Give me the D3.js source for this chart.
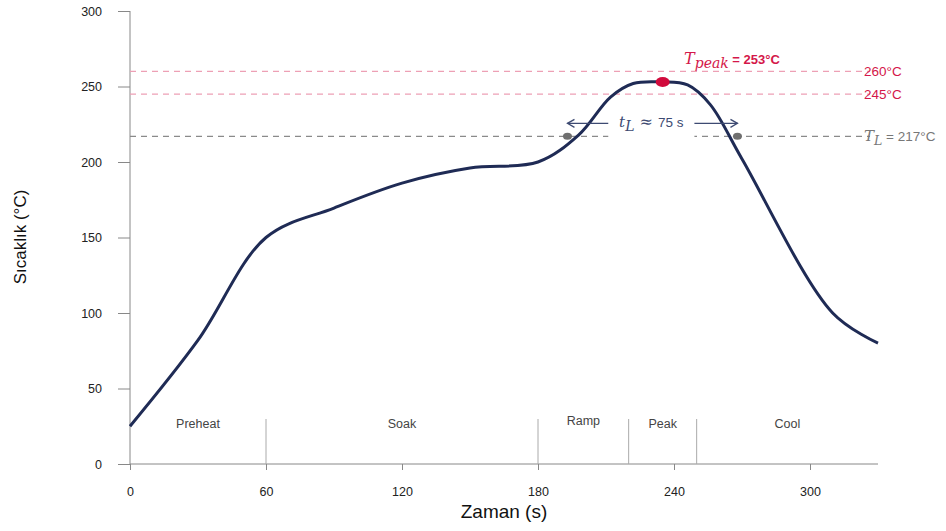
<!DOCTYPE html>
<html><head><meta charset="utf-8">
<script src="https://cdn.jsdelivr.net/npm/d3@7/dist/d3.min.js"></script>
<style>body{margin:0;background:#fff}svg{display:block}text{font-family:"Liberation Sans",Arial,sans-serif}</style>
</head><body><svg id="c" width="946" height="531"></svg>
<script>
const times = [0,30,60,90,120,150,180,198,212,222,235,246,256,270,310,330];
const temps = [25,82,150,169.5,186,196,200,218,243,252,253,251,238,202,100,80];
const xTicks = [0,60,120,180,240,300];
const yTicks = [0,50,100,150,200,250,300];
const phaseNames = ["Preheat","Soak","Ramp","Peak","Cool"];
const phaseBounds = [0,60,180,220,250,330];
const refTemps = [260,245];
const liquidus = 217;
const tLcross = [193,268];
const peakPoint = [235,253];

const svg = d3.select("#c");
const x = d3.scaleLinear().domain([0,330]).range([130,878]);
const y = d3.scaleLinear().domain([0,300]).range([464,11]);
const axisCol = "#888";

// y axis
const ya = svg.append("g").attr("transform","translate(130,0)")
  .call(d3.axisLeft(y).tickValues(yTicks).tickSize(12).tickPadding(16));
ya.select(".domain").attr("stroke",axisCol).attr("d","M0,11V464");
ya.selectAll(".tick line").attr("stroke",axisCol);
ya.selectAll(".tick text").attr("font-size",12.5).attr("fill","#222").attr("font-family","Liberation Sans, Arial");

// x axis
const xa = svg.append("g").attr("transform","translate(0,464)")
  .call(d3.axisBottom(x).tickValues(xTicks).tickSize(6).tickPadding(17));
xa.select(".domain").attr("stroke",axisCol).attr("d","M130,0H878");
xa.selectAll(".tick line").attr("stroke",axisCol);
xa.selectAll(".tick text").attr("font-size",12.5).attr("fill","#222").attr("font-family","Liberation Sans, Arial");

svg.append("text").attr("x",504).attr("y",518).attr("text-anchor","middle")
  .attr("font-size",19).attr("fill","#111").text("Zaman (s)");
svg.append("text").attr("transform","translate(26,237) rotate(-90)").attr("text-anchor","middle")
  .attr("font-size",17).attr("fill","#111").text("Sıcaklık (°C)");

// phase dividers
phaseBounds.slice(1,-1).forEach(b=>{
  svg.append("line").attr("x1",x(b)).attr("x2",x(b)).attr("y1",419).attr("y2",464)
    .attr("stroke","#aaa").attr("stroke-width",1);
});
phaseNames.forEach((n,i)=>{
  const mid = (phaseBounds[i]+phaseBounds[i+1])/2;
  svg.append("text").attr("x",x(mid)).attr("y", n==="Ramp"?425:428).attr("text-anchor","middle")
    .attr("font-size",12.5).attr("fill","#444").text(n);
});

// reference lines
refTemps.forEach(t=>{
  svg.append("line").attr("x1",130).attr("x2",870).attr("y1",y(t)).attr("y2",y(t))
    .attr("stroke","#eda0b5").attr("stroke-width",1.2).attr("stroke-dasharray","6,5");
  svg.append("text").attr("x",864).attr("y",y(t)+5).attr("font-size",13.5).attr("fill","#d4174a")
    .text(t+"°C");
});
svg.append("line").attr("x1",130).attr("x2",870).attr("y1",y(liquidus)).attr("y2",y(liquidus))
  .attr("stroke","#8a8a8a").attr("stroke-width",1.2).attr("stroke-dasharray","6,5");
const tl = svg.append("text").attr("x",864).attr("y",y(liquidus)+5).attr("font-size",13.5).attr("fill","#777");
tl.append("tspan").attr("font-family","DejaVu Serif, serif").attr("font-style","italic").attr("font-size",15).text("T");
tl.append("tspan").attr("font-family","DejaVu Serif, serif").attr("font-style","italic").attr("font-size",12.5).attr("dy",4).text("L");
tl.append("tspan").attr("dy",-4).text(" = 217°C");

// curve
const pts = times.map((t,i)=>[t,temps[i]]);
svg.append("path").datum(pts)
  .attr("d", d3.line().x(d=>x(d[0])).y(d=>y(d[1])).curve(d3.curveCatmullRom.alpha(0.5)))
  .attr("fill","none").attr("stroke","#1f2b55").attr("stroke-width",3).attr("stroke-linejoin","round");

// tL arrow
const ac = "#3d4a72";
const xL = x(tLcross[0]), xR = x(tLcross[1]);
const aY = y(liquidus)-13;
svg.append("rect").attr("x",x(211)).attr("y",aY-14).attr("width",x(249)-x(211)).attr("height",28).attr("fill","#fff");
svg.append("line").attr("x1",xL).attr("x2",x(211)).attr("y1",aY).attr("y2",aY).attr("stroke",ac).attr("stroke-width",1.3);
svg.append("line").attr("x1",x(249)).attr("x2",xR).attr("y1",aY).attr("y2",aY).attr("stroke",ac).attr("stroke-width",1.3);
svg.append("path").attr("d",`M${xL+7},${aY-4}L${xL},${aY}L${xL+7},${aY+4}`).attr("fill","none").attr("stroke",ac).attr("stroke-width",1.3);
svg.append("path").attr("d",`M${xR-7},${aY-4}L${xR},${aY}L${xR-7},${aY+4}`).attr("fill","none").attr("stroke",ac).attr("stroke-width",1.3);
const lab = svg.append("text").attr("x",x(230)).attr("y",aY+4).attr("text-anchor","middle").attr("font-size",13.5).attr("fill",ac);
lab.append("tspan").attr("font-family","DejaVu Serif, serif").attr("font-style","italic").attr("font-size",15).text("t");
lab.append("tspan").attr("font-family","DejaVu Serif, serif").attr("font-style","italic").attr("font-size",14).attr("dy",4).text("L");
lab.append("tspan").attr("dy",-4).attr("font-family","DejaVu Serif, serif").attr("font-size",16).text(" ≈ ");
lab.append("tspan").text("75 s");

// dots
tLcross.forEach(t=>{
  svg.append("ellipse").attr("cx",x(t)).attr("cy",y(liquidus)).attr("rx",4.5).attr("ry",3.5).attr("fill","#6f6f6f");
});
svg.append("ellipse").attr("cx",x(peakPoint[0])).attr("cy",y(peakPoint[1])).attr("rx",7).attr("ry",5).attr("fill","#d10a3c");

// Tpeak label
const pl = svg.append("text").attr("x",684).attr("y",y(260)-7).attr("font-size",13).attr("fill","#d4174a").attr("font-weight","bold");
pl.append("tspan").attr("font-family","DejaVu Serif, serif").attr("font-style","italic").attr("font-weight","normal").attr("font-size",16).text("T");
pl.append("tspan").attr("font-family","DejaVu Serif, serif").attr("font-style","italic").attr("font-weight","normal").attr("font-size",14).attr("dy",4).text("peak");
pl.append("tspan").attr("dy",-4).text(" = 253°C");
</script></body></html>
